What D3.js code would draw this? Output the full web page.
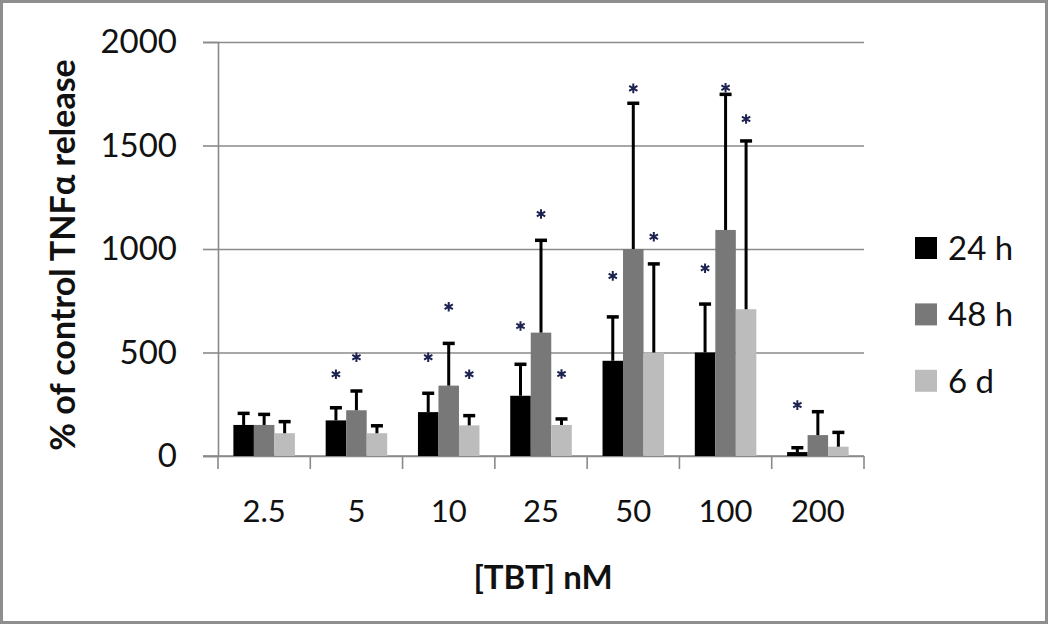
<!DOCTYPE html>
<html>
<head>
<meta charset="utf-8">
<script src="https://cdn.jsdelivr.net/npm/d3@7"></script>
<style>
  body { margin: 0; background: #fff; }
  svg text { font-family: Lato, "Open Sans", sans-serif; fill: #111; }
</style>
</head>
<body>
<script>
// data
var categories = ['2.5', '5', '10', '25', '50', '100', '200'];
var seriesNames = ['24 h', '48 h', '6 d'];
var seriesColors = ['#000000', '#787878', '#bcbcbc'];
var mean24h = [150, 172, 212, 291, 460, 500, 19];
var mean48h = [150, 221, 340, 596, 1000, 1092, 101];
var mean6d  = [110, 110, 148, 150, 500, 709, 45];
var sd24h = [56, 61, 91, 152, 212, 234, 21];
var sd48h = [51, 93, 204, 446, 704, 655, 113];
var sd6d  = [56, 36, 47, 29, 428, 813, 69];
var yTicks = [0, 500, 1000, 1500, 2000];
// significance marks: [category, series index, height in % units]
var stars = [
  ['5', 0, 395], ['5', 1, 477],
  ['10', 0, 477], ['10', 1, 721], ['10', 2, 395],
  ['25', 0, 628], ['25', 1, 1169], ['25', 2, 396],
  ['50', 0, 870], ['50', 1, 1776], ['50', 2, 1059],
  ['100', 0, 907], ['100', 1, 1779], ['100', 2, 1628],
  ['200', 0, 246]
];

var means = [mean24h, mean48h, mean6d];
var sds = [sd24h, sd48h, sd6d];
var rows = [];
categories.forEach(function(c, i) {
  seriesNames.forEach(function(s, j) {
    rows.push({cat: c, s: j, v: means[j][i], sd: sds[j][i]});
  });
});

var W = 1050, H = 625;
var axisGrey = '#8a8a8a';
var svg = d3.select('body').append('svg').attr('width', W).attr('height', H);

// outer frame
svg.append('rect')
  .attr('x', 1.5).attr('y', 1.5).attr('width', W - 5).attr('height', H - 4)
  .attr('fill', 'none').attr('stroke', '#8e8e8e').attr('stroke-width', 3);

var x = d3.scaleBand().domain(categories).range([218, 864]);
var xs = d3.scaleBand().domain(d3.range(seriesNames.length))
  .range([0, x.bandwidth()]).paddingInner(0).paddingOuter(0.75);
var y = d3.scaleLinear().domain([0, 2000]).range([456, 42]);

// gridlines
svg.append('g')
  .attr('transform', 'translate(218,0)')
  .call(d3.axisLeft(y).tickValues(yTicks).tickSize(-(864 - 218)).tickFormat(''))
  .call(function(g) { g.select('.domain').remove(); })
  .selectAll('line').attr('stroke', axisGrey).attr('stroke-width', 1.6);

// y axis
var yAxis = svg.append('g')
  .attr('transform', 'translate(218,0)')
  .call(d3.axisLeft(y).tickValues(yTicks).tickFormat(d3.format('d')).tickSize(15).tickPadding(26));
yAxis.select('.domain').attr('stroke', axisGrey).attr('stroke-width', 1.6);
yAxis.selectAll('line').attr('stroke', axisGrey).attr('stroke-width', 1.6);
yAxis.selectAll('text').style('font-size', '33px').style('font-family', 'Lato, sans-serif').attr('fill', '#111');

// x axis
var xAxis = svg.append('g')
  .attr('transform', 'translate(0,456)')
  .call(d3.axisBottom(x).tickSize(0).tickPadding(44));
xAxis.select('.domain').remove();
xAxis.selectAll('text').style('font-size', '31px').style('font-family', 'Lato, sans-serif').attr('fill', '#111');
svg.append('line')
  .attr('x1', 203).attr('x2', 864).attr('y1', 456).attr('y2', 456)
  .attr('stroke', axisGrey).attr('stroke-width', 1.6);
svg.selectAll('.cattick')
  .data(categories.concat(['end']))
  .enter().append('line')
  .attr('class', 'cattick')
  .attr('x1', function(d, i) { return i < categories.length ? x(d) : x.range()[1]; })
  .attr('x2', function(d, i) { return i < categories.length ? x(d) : x.range()[1]; })
  .attr('y1', 456).attr('y2', 469)
  .attr('stroke', axisGrey).attr('stroke-width', 1.6);

// bars
svg.append('g').selectAll('rect')
  .data(rows)
  .enter().append('rect')
  .attr('x', function(d) { return x(d.cat) + xs(d.s); })
  .attr('y', function(d) { return y(d.v); })
  .attr('width', xs.bandwidth())
  .attr('height', function(d) { return y(0) - y(d.v); })
  .attr('fill', function(d) { return seriesColors[d.s]; });

// error bars (upper only)
var eb = svg.append('g').selectAll('g')
  .data(rows)
  .enter().append('g')
  .attr('transform', function(d) { return 'translate(' + (x(d.cat) + xs(d.s) + xs.bandwidth() / 2) + ',0)'; });
eb.append('line')
  .attr('x1', 0).attr('x2', 0)
  .attr('y1', function(d) { return y(d.v); })
  .attr('y2', function(d) { return y(d.v + d.sd); })
  .attr('stroke', '#000').attr('stroke-width', 3);
eb.append('line')
  .attr('x1', -6).attr('x2', 6)
  .attr('y1', function(d) { return y(d.v + d.sd); })
  .attr('y2', function(d) { return y(d.v + d.sd); })
  .attr('stroke', '#000').attr('stroke-width', 3.5);

// asterisks
var starPath = (function() {
  var r = 4.8, p = '';
  [90, 30, 150].forEach(function(a) {
    var dx = r * Math.cos(a * Math.PI / 180), dy = r * Math.sin(a * Math.PI / 180);
    p += 'M' + (-dx) + ',' + (-dy) + 'L' + dx + ',' + dy;
  });
  return p;
})();
svg.append('g').selectAll('path')
  .data(stars)
  .enter().append('path')
  .attr('d', starPath)
  .attr('transform', function(d) {
    return 'translate(' + (x(d[0]) + xs(d[1]) + xs.bandwidth() / 2) + ',' + y(d[2]) + ')';
  })
  .attr('stroke', '#1c2350').attr('stroke-width', 2).attr('fill', 'none');

// axis titles
svg.append('text')
  .attr('transform', 'translate(75,255) rotate(-90)')
  .attr('text-anchor', 'middle')
  .style('font-size', '34px').style('font-weight', 'bold')
  .text('% of control TNF\u03b1 release');
svg.append('text')
  .attr('x', 543).attr('y', 589)
  .attr('text-anchor', 'middle')
  .style('font-size', '33px').style('font-weight', 'bold')
  .text('[TBT] nM');

// legend
var leg = svg.append('g').selectAll('g')
  .data(seriesNames)
  .enter().append('g')
  .attr('transform', function(d, i) { return 'translate(915,' + (248 + i * 66.4) + ')'; });
leg.append('rect')
  .attr('x', 0).attr('y', -11).attr('width', 22).attr('height', 22)
  .attr('fill', function(d, i) { return seriesColors[i]; });
leg.append('text')
  .attr('x', 33).attr('y', 12)
  .style('font-size', '33px')
  .text(function(d) { return d; });
</script>
</body>
</html>
